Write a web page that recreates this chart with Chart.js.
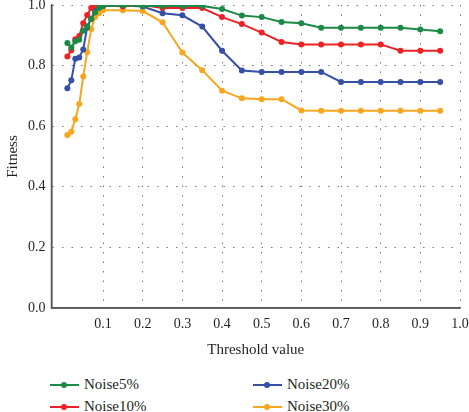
<!DOCTYPE html>
<html lang="en">
<head>
<meta charset="UTF-8">
<title>Fitness vs threshold</title>
<style>
  body { margin: 0; background: #fff; }
  #wrap { position: absolute; left: 0; top: 0; width: 469px; height: 365px; }
  .lg { position: absolute; font: 15px "Liberation Serif", serif; color: #231f20; white-space: nowrap; }
  .lg .ln { position: absolute; left: 0; top: 8px; width: 29px; height: 2px; }
  .lg .dt { position: absolute; left: 11px; top: 6px; width: 6px; height: 6px; border-radius: 50%; }
  .lg .tx { position: absolute; left: 34px; top: 0; }
</style>
</head>
<body>
<div id="wrap"><canvas id="myChart"></canvas></div>
<div id="legend"></div>

<script src="https://cdn.jsdelivr.net/npm/chart.js"></script>
<script>
// threshold values (x)
const v_thresh = [0.01, 0.02, 0.03, 0.04, 0.05, 0.06, 0.07, 0.08, 0.09, 0.1,
                  0.15, 0.2, 0.25, 0.3, 0.35, 0.4, 0.45, 0.5, 0.55, 0.6,
                  0.65, 0.7, 0.75, 0.8, 0.85, 0.9, 0.95];

// fitness per noise level
const v_noise5  = [0.875, 0.86, 0.88, 0.885, 0.915, 0.93, 0.955, 0.975, 0.99, 0.997,
                   0.998, 0.997, 0.997, 0.997, 0.997, 0.987, 0.965, 0.96, 0.944, 0.94,
                   0.925, 0.925, 0.925, 0.925, 0.925, 0.919, 0.913];
const v_noise10 = [0.83, 0.851, 0.887, 0.898, 0.94, 0.967, 0.99, 1.0, 1.0, 1.0,
                   0.995, 1.0, 0.99, 0.99, 0.99, 0.96, 0.937, 0.909, 0.878, 0.87,
                   0.87, 0.87, 0.87, 0.87, 0.849, 0.849, 0.849];
const v_noise20 = [0.725, 0.752, 0.823, 0.827, 0.853, 0.926, 0.954, 0.983, 0.994, 0.997,
                   0.998, 0.995, 0.973, 0.966, 0.929, 0.849, 0.784, 0.779, 0.779, 0.779,
                   0.779, 0.746, 0.746, 0.746, 0.746, 0.746, 0.746];
const v_noise30 = [0.571, 0.582, 0.623, 0.673, 0.764, 0.844, 0.92, 0.96, 0.973, 0.983,
                   0.983, 0.98, 0.943, 0.843, 0.785, 0.717, 0.692, 0.689, 0.689, 0.652,
                   0.651, 0.651, 0.651, 0.651, 0.651, 0.651, 0.651];

const v_names  = ["Noise5%", "Noise10%", "Noise20%", "Noise30%"];
const v_colors = ["#1b8a46", "#ec2227", "#3550a6", "#f9a61f"];
const v_xTicks = [0.1, 0.2, 0.3, 0.4, 0.5, 0.6, 0.7, 0.8, 0.9, 1.0];

const v_all = [v_noise5, v_noise10, v_noise20, v_noise30];
const v_font = "'Liberation Serif', serif";

let v_sets = v_all.map((p_arr, i) => ({
    label: v_names[i],
    data: p_arr.map((v, k) => ({ x: v_thresh[k], y: v })),
    borderColor: v_colors[i],
    backgroundColor: v_colors[i],
    borderWidth: 2,
    pointRadius: 3,
    pointBorderWidth: 0,
    tension: 0
}));

const ctx = document.getElementById('myChart');
new Chart(ctx, {
    type: 'line',
    data: { datasets: v_sets },
    options: {
        responsive: true,
        maintainAspectRatio: false,
        animation: false,
        layout: { padding: { top: 5, right: 9, left: 0, bottom: 0 } },
        plugins: { legend: { display: false }, tooltip: { enabled: false } },
        scales: {
            x: {
                type: 'linear',
                min: -0.03,
                max: 1.0,
                afterBuildTicks: (s) => { s.ticks = v_xTicks.map(v => ({ value: v })); },
                afterFit: (s) => { s.height = 57; s.paddingLeft = 0; s.paddingRight = 0; },
                ticks: {
                    padding: 8,
                    color: '#231f20',
                    font: { family: v_font, size: 14 },
                    callback: (v) => v.toFixed(1)
                },
                grid: { color: '#7a7a7a', lineWidth: 1, drawTicks: false },
                border: { display: true, color: '#555', width: 1.5, dash: [1.5, 8] },
                title: {
                    display: true,
                    text: 'Threshold value',
                    color: '#231f20',
                    font: { family: v_font, size: 15 },
                    padding: { top: 0, bottom: 6 }
                }
            },
            y: {
                min: 0,
                max: 1.0,
                afterFit: (s) => { s.width = 51.5; s.paddingTop = 0; s.paddingBottom = 0; },
                ticks: {
                    stepSize: 0.2,
                    padding: 6,
                    color: '#231f20',
                    font: { family: v_font, size: 14 },
                    callback: (v) => v.toFixed(1)
                },
                grid: {
                    color: (c) => c.tick && c.tick.value === 0 ? 'rgba(0,0,0,0)' : '#7a7a7a',
                    lineWidth: 1,
                    drawTicks: false
                },
                border: { display: true, color: '#555', width: 1.5, dash: [1.5, 8] },
                title: {
                    display: true,
                    text: 'Fitness',
                    color: '#231f20',
                    font: { family: v_font, size: 15 },
                    padding: { top: 4, bottom: 0 }
                }
            }
        }
    },
    plugins: [{
        // solid axis lines (grid dash also affects border in v4)
        id: 'axes',
        afterDraw(chart) {
            const a = chart.chartArea;
            const c = chart.ctx;
            c.save();
            c.strokeStyle = '#555';
            c.lineWidth = 1.5;
            c.beginPath();
            c.moveTo(a.left, a.top);
            c.lineTo(a.left, a.bottom);
            c.lineTo(a.right, a.bottom);
            c.stroke();
            c.restore();
        }
    }]
});

// legend in two columns like the original
const v_legPos = [[50, 376], [50, 398], [253, 376], [253, 398]];
let v_html = "";
for (let i = 0; i < v_names.length; i++) {
    v_html += '<div class="lg" style="left:' + v_legPos[i][0] + 'px;top:' + v_legPos[i][1] + 'px">' +
        '<span class="ln" style="background:' + v_colors[i] + '"></span>' +
        '<span class="dt" style="background:' + v_colors[i] + '"></span>' +
        '<span class="tx">' + v_names[i] + '</span></div>';
}
document.getElementById('legend').innerHTML = v_html;
</script>
</body>
</html>
